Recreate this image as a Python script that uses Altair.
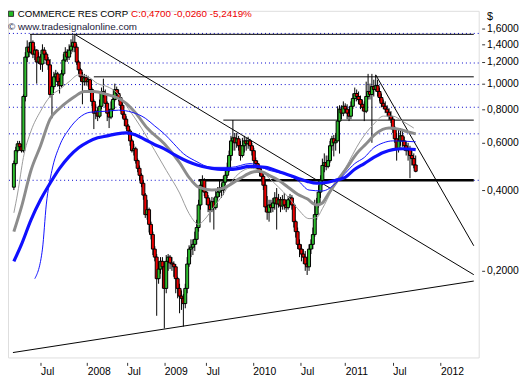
import altair as alt
import pandas as pd

# ---------------- data (weekly candles, index = week number) ----------------
first_open = 0.410
close = [0.502,0.561,0.595,0.580,0.561,0.893,1.252,1.363,1.306,1.421,
         1.284,1.329,1.200,1.252,1.180,1.329,1.284,1.221,1.171,0.908,
         0.972,1.057,1.084,1.014,0.980,1.084,1.221,1.306,1.252,1.329,
         1.375,1.421,1.363,1.200,1.122,1.057,1.014,1.048,1.014,1.031,
         0.948,0.856,0.774,0.787,0.754,0.821,0.932,0.916,0.842,0.774,
         0.748,0.801,0.870,0.948,0.916,0.885,0.828,0.767,0.735,0.693,
         0.664,0.610,0.561,0.570,0.515,0.482,0.454,0.424,0.383,0.324,
         0.338,0.298,0.273,0.241,0.225,0.187,0.203,0.217,0.207,0.172,
         0.217,0.225,0.214,0.212,0.207,0.187,0.172,0.161,0.158,0.151,
         0.172,0.212,0.241,0.245,0.251,0.262,0.290,0.352,0.417,0.435,
         0.393,0.374,0.352,0.338,0.362,0.344,0.377,0.393,0.407,0.400,
         0.428,0.454,0.482,0.538,0.610,0.626,0.600,0.621,0.585,0.538,
         0.585,0.610,0.595,0.610,0.585,0.561,0.515,0.502,0.482,0.466,
         0.450,0.417,0.346,0.331,0.352,0.344,0.358,0.374,0.355,0.368,
         0.349,0.368,0.352,0.344,0.368,0.374,0.352,0.305,0.280,0.251,
         0.241,0.231,0.225,0.212,0.207,0.241,0.251,0.273,0.324,0.352,
         0.393,0.435,0.494,0.506,0.490,0.515,0.585,0.621,0.600,0.610,
         0.723,0.801,0.774,0.821,0.801,0.774,0.754,0.821,0.878,0.916,
         0.893,0.870,0.835,0.814,0.787,0.893,0.932,0.908,0.972,0.948,
         0.980,0.932,0.885,0.842,0.821,0.801,0.780,0.754,0.735,0.675,
         0.621,0.570,0.610,0.637,0.610,0.585,0.561,0.570,0.538,0.524,
         0.496,0.470]
high = [0.515,0.580,0.610,0.610,0.595,0.908,1.306,1.445,1.421,1.522,
        1.445,1.375,1.340,1.306,1.284,1.397,1.363,1.306,1.252,1.231,
        1.014,1.103,1.122,1.103,1.048,1.122,1.284,1.363,1.340,1.397,
        1.458,1.509,1.522,1.397,1.221,1.141,1.103,1.084,1.075,1.066,
        1.040,0.964,0.870,0.835,0.814,0.870,0.964,1.040,0.948,0.856,
        0.801,0.856,0.908,0.997,0.972,0.948,0.900,0.856,0.787,0.754,
        0.705,0.675,0.621,0.595,0.580,0.524,0.494,0.462,0.435,0.390,
        0.368,0.344,0.305,0.280,0.247,0.231,0.217,0.225,0.225,0.217,
        0.229,0.231,0.229,0.225,0.217,0.212,0.190,0.179,0.169,0.164,
        0.179,0.225,0.249,0.262,0.262,0.280,0.310,0.368,0.435,0.454,
        0.443,0.407,0.383,0.368,0.377,0.374,0.400,0.410,0.435,0.424,
        0.451,0.474,0.506,0.561,0.637,0.729,0.653,0.653,0.637,0.610,
        0.626,0.637,0.626,0.632,0.621,0.600,0.575,0.529,0.515,0.498,
        0.482,0.458,0.435,0.380,0.368,0.368,0.374,0.393,0.407,0.387,
        0.377,0.383,0.390,0.368,0.380,0.387,0.383,0.358,0.310,0.290,
        0.262,0.251,0.241,0.237,0.225,0.251,0.262,0.290,0.368,0.374,
        0.417,0.454,0.524,0.548,0.538,0.538,0.610,0.637,0.642,0.653,
        0.821,0.828,0.828,0.856,0.842,0.835,0.801,0.856,0.916,0.964,
        0.948,0.932,0.900,0.870,0.856,1.014,1.084,0.997,1.084,1.031,
        1.075,1.031,0.964,0.916,0.870,0.856,0.828,0.807,0.787,0.754,
        0.693,0.653,0.675,0.681,0.664,0.632,0.610,0.600,0.585,0.561,
        0.548,0.538]
low = [0.400,0.494,0.552,0.561,0.552,0.552,0.856,1.200,1.252,1.284,
       1.241,1.221,0.997,1.180,1.122,1.103,1.241,1.180,1.122,0.885,
       0.741,0.948,1.031,0.972,0.916,0.964,1.066,1.200,1.200,1.221,
       1.284,1.306,1.306,1.171,1.084,1.014,0.835,0.980,0.980,0.972,
       0.924,0.821,0.675,0.735,0.723,0.741,0.801,0.885,0.814,0.723,
       0.681,0.735,0.787,0.856,0.885,0.856,0.787,0.741,0.693,0.675,
       0.648,0.585,0.552,0.538,0.502,0.466,0.435,0.410,0.368,0.315,
       0.310,0.278,0.262,0.229,0.217,0.136,0.179,0.195,0.172,0.122,
       0.165,0.200,0.203,0.200,0.190,0.165,0.158,0.139,0.143,0.124,
       0.145,0.165,0.207,0.225,0.229,0.237,0.251,0.280,0.338,0.393,
       0.380,0.352,0.331,0.303,0.331,0.285,0.338,0.368,0.377,0.374,
       0.383,0.417,0.443,0.466,0.515,0.561,0.561,0.575,0.561,0.515,
       0.529,0.552,0.561,0.570,0.561,0.538,0.494,0.482,0.466,0.450,
       0.435,0.400,0.331,0.310,0.305,0.329,0.331,0.338,0.285,0.344,
       0.331,0.338,0.338,0.331,0.338,0.352,0.338,0.290,0.266,0.241,
       0.225,0.217,0.212,0.200,0.193,0.200,0.231,0.241,0.268,0.310,
       0.344,0.374,0.417,0.466,0.474,0.482,0.506,0.561,0.534,0.561,
       0.610,0.547,0.735,0.754,0.774,0.735,0.723,0.735,0.801,0.856,
       0.856,0.835,0.801,0.787,0.723,0.774,0.870,0.870,0.600,0.893,
       0.932,0.893,0.856,0.814,0.801,0.774,0.754,0.729,0.711,0.653,
       0.600,0.515,0.552,0.585,0.580,0.561,0.538,0.515,0.443,0.494,
       0.482,0.466]

# moving averages (index, value)
ma_fast_i = [0,2,5,9,14,19,24,29,34,39,44,49,54,60,67,74,80,87,92,97,100,105,109,114,119,124,129,134,139,144,149,155,159,162,167,174,182,189,194,199,204,210]
ma_fast_p = [0.329,0.390,0.529,0.664,0.787,0.893,0.948,1.014,1.075,1.057,0.997,0.972,0.924,0.807,0.681,0.561,0.474,0.390,0.327,0.298,0.310,0.346,0.377,0.428,0.466,0.482,0.474,0.443,0.410,0.377,0.341,0.313,0.316,0.341,0.400,0.482,0.610,0.705,0.754,0.754,0.723,0.681]
ma_mid_i = [0,4,9,14,19,24,29,32,37,42,49,54,59,64,70,79,87,92,97,104,110,119,125,129,134,139,144,149,154,159,162,165,170,175,180,185,190,197,202,207,211]
ma_mid_p = [0.280,0.346,0.474,0.585,0.735,0.807,0.863,0.893,0.932,0.932,0.908,0.885,0.842,0.774,0.681,0.595,0.506,0.446,0.410,0.400,0.407,0.443,0.466,0.470,0.454,0.435,0.410,0.386,0.371,0.352,0.358,0.386,0.435,0.486,0.547,0.595,0.648,0.681,0.675,0.659,0.648]
ma_blue_i = [11,15,17,20,24,29,34,40,49,55,62,69,74,79,84,89,95,104,114,124,134,144,149,155,162,169,174,179,184,189,194,199,211]
ma_blue_p = [0.187,0.241,0.352,0.474,0.585,0.675,0.741,0.780,0.787,0.794,0.780,0.741,0.693,0.648,0.595,0.547,0.515,0.486,0.486,0.502,0.474,0.454,0.435,0.400,0.397,0.424,0.462,0.502,0.529,0.575,0.600,0.610,0.605]
ma_slow_i = [0,4,9,14,19,24,29,34,39,44,49,54,59,64,69,74,79,84,89,94,99,104,109,115,124,132,140,149,154,159,165,169,174,179,184,189,194,199,204,211]
ma_slow_p = [0.217,0.251,0.310,0.368,0.424,0.482,0.533,0.575,0.605,0.626,0.637,0.648,0.653,0.642,0.616,0.590,0.570,0.543,0.520,0.502,0.490,0.482,0.478,0.478,0.490,0.486,0.466,0.443,0.431,0.424,0.428,0.435,0.446,0.478,0.502,0.529,0.552,0.566,0.570,0.566]

# horizontal levels
solid_start = [8.5, 42, 110, 97]
solid_price = [1.522, 1.057, 0.729, 0.435]
solid_width = [1, 1, 1, 2.6]
dotted_price = [1.534, 1.190, 0.989, 0.814, 0.648, 0.435]

# trend lines
trend_i0 = [32, 190, -0.5]
trend_p0 = [1.522, 1.075, 0.0992]
trend_i1 = [241.5, 241.5, 241.5]
trend_p1 = [0.1935, 0.248, 0.1832]

# axes
tick_pos = [14, 38.5, 59.5, 79, 101, 125.5, 150.5, 174, 199, 224]
tick_lab = ["Jul", "2008", "Jul", "2009", "Jul", "2010", "Jul", "2011", "Jul", "2012"]
y_ticks = [0.2, 0.4, 0.6, 0.8, 1.0, 1.2, 1.4, 1.6]

X_MIN, X_MAX = -0.5, 241.5
END = 241.5

# ---------------- tables ----------------
n = len(close)
opens = [first_open] + close[:-1]
df = pd.DataFrame({"i": list(range(n)), "open": opens, "close": close, "high": high, "low": low})
df["high"] = df[["high", "open", "close"]].max(axis=1)
df["low"] = df[["low", "open", "close"]].min(axis=1)
df["dir"] = ["up" if c >= o else "down" for o, c in zip(df["open"], df["close"])]

solid = pd.DataFrame({"i": solid_start, "end": [END] * len(solid_start), "p": solid_price, "w": solid_width})
dotted = pd.DataFrame({"p": dotted_price})
trend = pd.DataFrame({"i": trend_i0, "i1": trend_i1, "p": trend_p0, "p1": trend_p1})

FONT = "Liberation Sans"
label_expr = "''"
for p, l in reversed(list(zip(tick_pos, tick_lab))):
    label_expr = f"datum.value == {p} ? '{l}' : ({label_expr})"

xs = alt.Scale(domain=[X_MIN, X_MAX], nice=False, zero=False)
ys = alt.Scale(type="log", domain=[0.0951, 1.862], nice=False)

xaxis = alt.Axis(values=tick_pos, labelExpr=label_expr, title=None, grid=False, domain=False,
                 tickSize=3, tickColor="#333", offset=5, labelAlign="left", labelBaseline="top",
                 labelPadding=1, labelFont=FONT, labelFontSize=10.5, labelColor="#000",
                 labelFlush=False, labelOverlap=False)
yaxis = alt.Axis(orient="right", values=y_ticks,
                 labelExpr="replace(format(datum.value, '.4f'), '.', ',')",
                 title="$", titleAngle=0, titleAlign="left", titleBaseline="top", titleX=5, titleY=0,
                 titleFont=FONT, titleFontSize=11, titleFontWeight="normal", titleColor="#000",
                 grid=False, domain=False, tickSize=3, tickColor="#333", offset=3, labelPadding=2,
                 labelFont=FONT, labelFontSize=10.5, labelColor="#000", labelFlush=False, labelOverlap=False)

def X(f):
    return alt.X(f, type="quantitative", scale=xs, axis=xaxis)

def Y(f):
    return alt.Y(f, type="quantitative", scale=ys, axis=yaxis)

dot_layer = alt.Chart(dotted).mark_rule(color="#0000cc", strokeDash=[1, 3], strokeWidth=1).encode(y=Y("p"))
solid_layer = alt.Chart(solid).mark_rule(color="black", clip=True).encode(
    x=X("i"), x2="end", y=Y("p"), strokeWidth=alt.StrokeWidth("w:Q", scale=None))
trend_layer = alt.Chart(trend).mark_rule(color="black", strokeWidth=1, clip=True).encode(
    x=X("i"), x2="i1", y=Y("p"), y2="p1")
wick = alt.Chart(df).mark_rule(color="black", strokeWidth=1, clip=True).encode(
    x=X("i"), y=Y("low"), y2="high")
body = alt.Chart(df).mark_bar(size=3, stroke="black", strokeWidth=1, clip=True).encode(
    x=X("i"), y=Y("open"), y2="close",
    color=alt.Color("dir:N", scale=alt.Scale(domain=["up", "down"], range=["#2fbf2f", "#ee0000"]), legend=None))

def ma_layer(ii, pp, color, width):
    d = pd.DataFrame({"i": ii, "p": pp})
    return alt.Chart(d).mark_line(color=color, strokeWidth=width, clip=True, interpolate="monotone").encode(
        x=X("i"), y=Y("p"))

ma1 = ma_layer(ma_fast_i, ma_fast_p, "#9a9a9a", 1)
ma2 = ma_layer(ma_mid_i, ma_mid_p, "#8c8c8c", 3)
ma3 = ma_layer(ma_blue_i, ma_blue_p, "#1010ff", 1)
ma4 = ma_layer(ma_slow_i, ma_slow_p, "#1010ff", 3.2)

hdr = pd.DataFrame({"t": ["x"]})
icon = alt.Chart(hdr).mark_square(size=28, color="#22bb22", stroke="#333", strokeWidth=1, opacity=1).encode(
    x=alt.value(3), y=alt.value(3))
title1 = alt.Chart(hdr).mark_text(align="left", baseline="middle", font=FONT, fontSize=9.8, color="#000").encode(
    x=alt.value(10), y=alt.value(3), text=alt.value("COMMERCE RES CORP"))
title2 = alt.Chart(hdr).mark_text(align="left", baseline="middle", font=FONT, fontSize=10, color="#ee0000").encode(
    x=alt.value(125), y=alt.value(3), text=alt.value("C:0,4700 -0,0260 -5,2419%"))
url = alt.Chart(hdr).mark_text(align="left", baseline="middle", font=FONT, fontSize=10, color="#1a1a3a").encode(
    x=alt.value(0), y=alt.value(16), text=alt.value("© www.tradesignalonline.com"))

chart = alt.layer(dot_layer, solid_layer, trend_layer, wick, body, ma1, ma2, ma3, ma4,
                  icon, title1, title2, url).properties(
    width=478, height=352, autosize="none",
    padding={"left": 0, "top": 0, "right": 46, "bottom": 20},
).configure_view(stroke="black", strokeWidth=1, fill="#f4f4f4").configure(background="white")

chart.save("out.html", embed_options={"renderer": "svg", "actions": False})
